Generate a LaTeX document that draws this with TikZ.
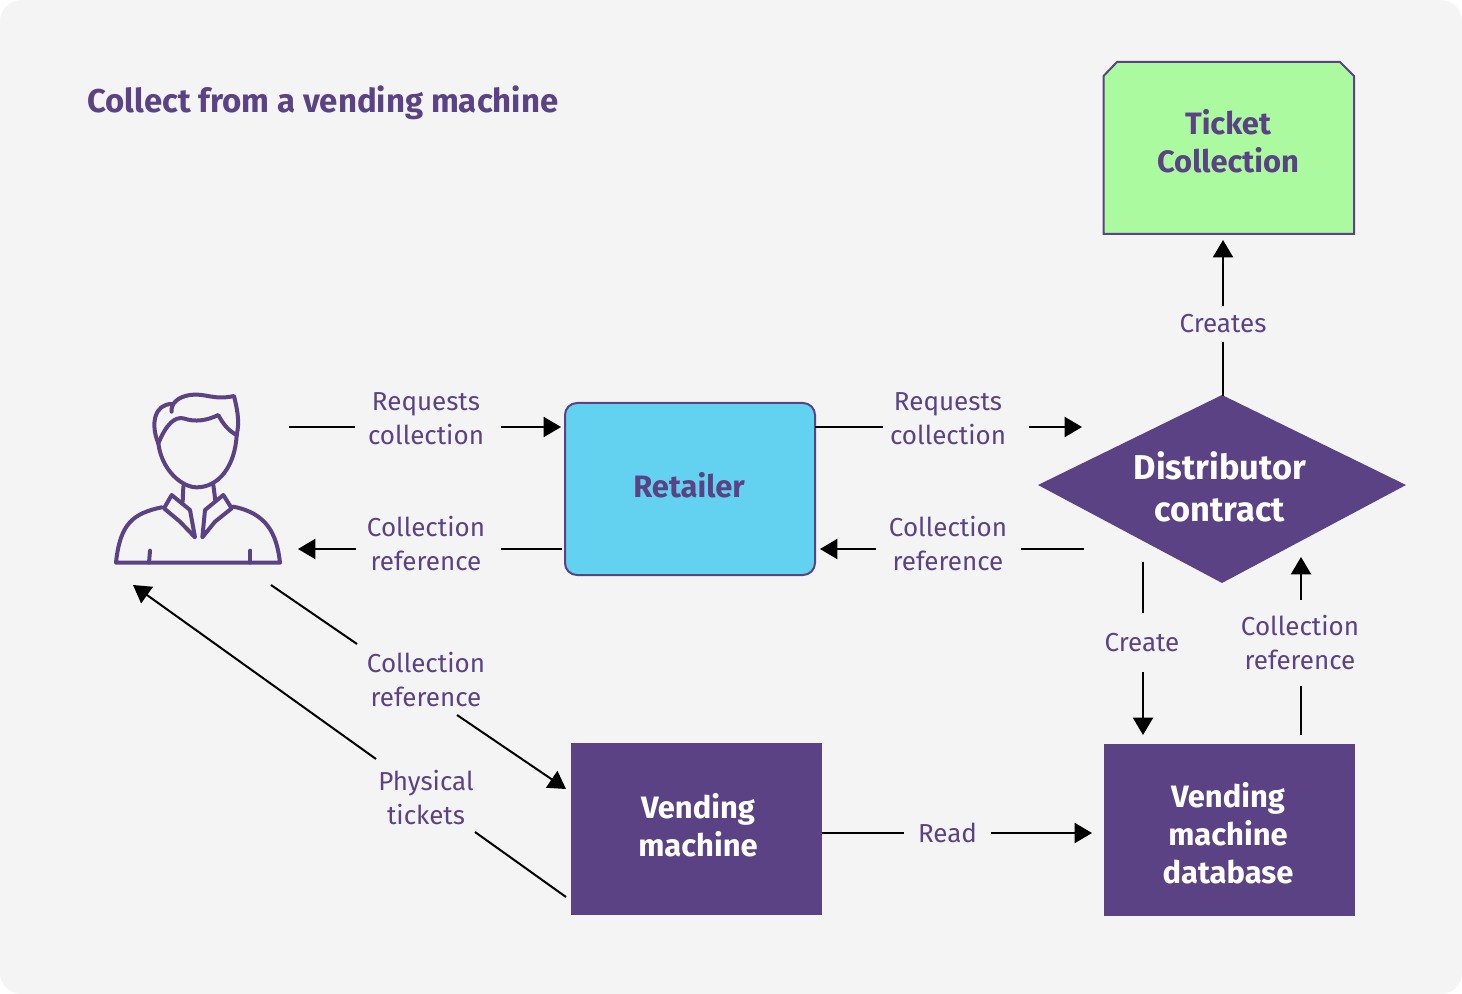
\documentclass[tikz,border=0pt]{standalone}
\usepackage{fontspec}
\setmainfont{Fira Sans}
\usetikzlibrary{arrows.meta,calc}
\definecolor{pur}{HTML}{5B4285}
\definecolor{bgc}{HTML}{F4F4F4}
\definecolor{grn}{HTML}{ABFAA0}
\definecolor{blu}{HTML}{62D2F0}
\newcommand{\fs}[1]{\fontsize{#1}{#1}\selectfont}
\tikzset{
  lab/.style={text=pur,align=center,font=\fs{19.5}\setlength{\baselineskip}{25.5pt},inner sep=0pt,minimum width=109.5pt},
  conn/.style={draw=black,line width=1.5pt},
  arr/.style={conn,-{Triangle[length=13pt,width=15pt]}},
  head/.style={font=\bfseries\fs{23.2}\setlength{\baselineskip}{28.5pt},align=center,inner sep=0pt},
  pline/.style={draw=pur,line width=3pt,line cap=round,line join=round},
}
\begin{document}
\begin{tikzpicture}[x=0.75pt,y=-0.75pt]
\useasboundingbox (0,0) rectangle (1462,994);
\fill[bgc,rounded corners=16pt] (0,0) rectangle (1462,994);
\node[anchor=west,text=pur,inner sep=0pt,font=\bfseries\fs{24.7}] (title) at (87,103) {Collect from a vending machine};

% shapes
\path[draw=pur,line width=1.5pt,fill=grn] (1103.5,76) -- (1117,62) -- (1340,62) -- (1354,76) -- (1354,234) -- (1103.5,234) -- cycle;
\node[head,text=pur] (ticket) at (1228,141.5) {Ticket\\Collection};
\coordinate (ticketb) at (1223,240);
\draw[pur,line width=1.5pt,fill=blu,rounded corners=9pt] (565,403) rectangle (815,575);
\node[head,text=pur] (retailer) at (689,485) {Retailer};
\coordinate (retE) at (815,427);
\coordinate (retL) at (561,427);
\coordinate (retLb) at (562,549);
\coordinate (retRb) at (820,549);
\fill[pur] (1038,485) -- (1222,395) -- (1406,485) -- (1222,583) -- cycle;
\node[head,text=white,font=\bfseries\fs{25.8}\setlength{\baselineskip}{32pt}] (dist) at (1220,487) {Distributor\\contract};
\fill[pur] (571,743) rectangle (822,915);
\node[head,text=white] (vm) at (698,825) {Vending\\machine};
\fill[pur] (1104,744) rectangle (1355,916);
\node[head,text=white] (db) at (1228,833) {Vending\\machine\\database};

% person
\begin{scope}[shift={(90,380)},x=0.25pt,y=-0.25pt]
\draw[pline] (245,95) .. controls (242,70) and (265,50) .. (300,45) .. controls (345,38) and (370,62) .. (432,48) .. controls (445,100) and (448,130) .. (440,165);
\draw[pline] (245,72) .. controls (195,72) and (180,130) .. (205,190);
\draw[pline] (205,190) .. controls (230,130) and (255,110) .. (280,115) .. controls (315,127) and (350,122) .. (385,105) .. controls (400,135) and (420,155) .. (440,165);
\draw[pline] (205,190) .. controls (215,270) and (275,322) .. (320,322) .. controls (385,322) and (435,260) .. (440,165);
\draw[pline] (280,320) -- (278,365);
\draw[pline] (370,315) -- (376,362);
\draw[pline] (222,385) -- (245,345) -- (300,390) -- (315,472) -- (270,425) -- cycle;
\draw[pline] (425,385) -- (400,345) -- (345,390) -- (337,472) -- (375,425) -- cycle;
\draw[pline] (215,382) .. controls (130,400) and (90,430) .. (78,548) -- (570,548) .. controls (560,460) and (530,400) .. (430,380);
\draw[pline] (180,512) -- (177,548);
\draw[pline] (481,512) -- (481,548);
\end{scope}

% named connector ends
\coordinate (pr) at (289,427);
\coordinate (pl) at (298,549);
\coordinate (dl) at (1082,427);
\coordinate (dlb) at (1084,549);
\coordinate (dt) at (1223,396);
\coordinate (dc) at (1143,562);
\coordinate (dbt) at (1143,735);
\coordinate (dbr) at (1301,735);
\coordinate (dr) at (1301,557);
\coordinate (vmE) at (822,833);
\coordinate (dbW) at (1092,833);
\coordinate (a1) at (271,585);
\coordinate (a2) at (357,644);
\coordinate (a3) at (457,715);
\coordinate (a4) at (566,789);
\coordinate (b1) at (566,897);
\coordinate (b2) at (475,832);
\coordinate (b3) at (376,759);
\coordinate (b4) at (133,585);

% labels
\node[lab] (l1) at (426,419) {Requests\\collection};
\node[lab] (l2) at (426,544) {Collection\\reference};
\node[lab] (l3) at (948,419) {Requests\\collection};
\node[lab] (l4) at (948,544) {Collection\\reference};
\node[lab] (l5) at (426,680) {Collection\\reference};
\node[lab] (l6) at (426,798) {Physical\\tickets};
\node[lab,minimum height=27pt] (l7) at (1223,324) {Creates};
\node[lab,minimum height=44.25pt] (l8) at (1142,642.5) {Create};
\node[lab,minimum height=64.5pt] (l9) at (1300,643) {Collection\\reference};
\node[lab,minimum width=65pt] (l10) at (947.5,833) {Read};

% connectors
\draw[conn] (pr) -- ([xshift=1.5pt]l1.west |- pr);
\draw[arr] ([xshift=1.5pt]l1.east |- retL) -- (retL);
\draw[conn] (retLb) -- ([xshift=1.5pt]l2.east |- retLb);
\draw[arr] ([xshift=2.25pt]l2.west |- retLb) -- (pl);
\draw[conn] (retE) -- ([xshift=6pt]l3.west |- retE);
\draw[arr] ([xshift=6pt]l3.east |- dl) -- (dl);
\draw[conn] (dlb) -- (l4.east |- dlb);
\draw[arr] ([xshift=.75pt]l4.west |- dlb) -- (retRb);
\draw[conn] (dt) -- (l7.south);
\draw[arr] (l7.north) -- (ticketb);
\draw[conn] (dc) -- (dc |- l8.north);
\draw[arr] (dbt |- l8.south) -- (dbt);
\draw[conn] (dbr) -- (dbr |- l9.south);
\draw[arr] (dr |- l9.north) -- (dr);
\draw[conn] (vmE) -- (l10.west);
\draw[arr] (l10.east) -- (dbW);
\draw[conn] (a1) -- (a2);
\draw[arr] (a3) -- (a4);
\draw[conn] (b1) -- (b2);
\draw[arr] (b3) -- (b4);
\end{tikzpicture}
\end{document}
